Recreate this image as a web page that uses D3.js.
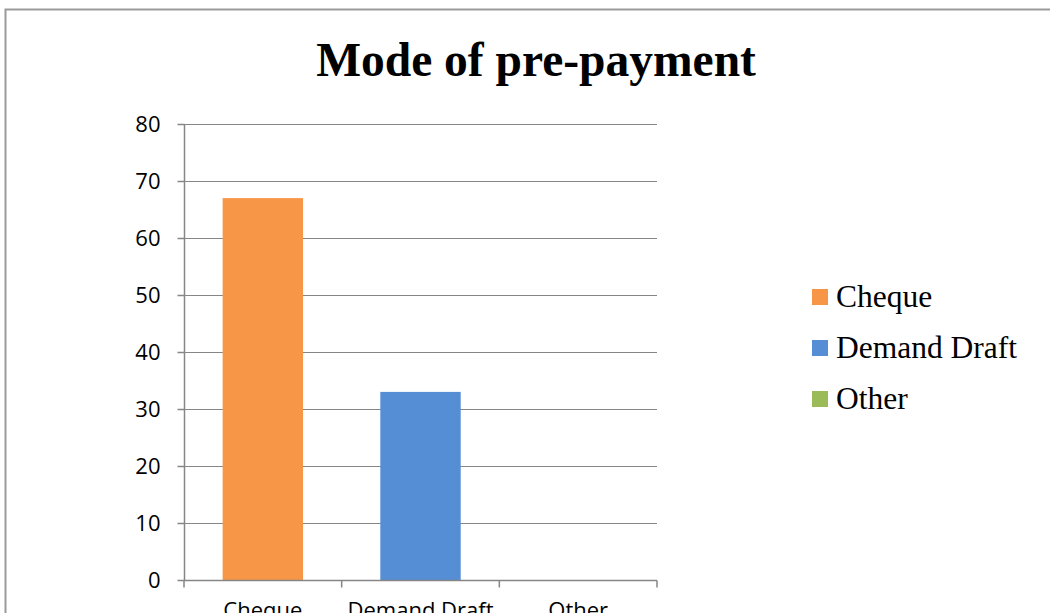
<!DOCTYPE html>
<meta charset="utf-8">
<style>
body { margin: 0; background: #fff; }
svg { display: block; }
.tick text { font-family: "Open Sans", "Liberation Sans", sans-serif; }
</style>
<svg width="1050" height="613" id="svg"></svg>
<script src="https://d3js.org/d3.v7.min.js"></script>
<script>

var categories = ["Cheque", "Demand Draft", "Other"];
var values = [67, 33, 0];
var colors = ["#f79646", "#558ed5", "#9bbb59"];
var yTicks = [0, 10, 20, 30, 40, 50, 60, 70, 80];

var svg = d3.select("svg"),
    width = +svg.attr("width"),
    height = +svg.attr("height");

// outer chart frame
svg.append("path")
    .attr("d", "M5.5," + (height + 5) + "V9.5H" + (width + 5))
    .attr("fill", "none")
    .attr("stroke", "#9a9a9a")
    .attr("stroke-width", 2);

svg.append("text")
    .attr("x", 536)
    .attr("y", 76)
    .attr("text-anchor", "middle")
    .style("font", "bold 47.5px 'Liberation Serif', serif")
    .text("Mode of pre-payment");

var x = d3.scaleBand()
    .domain(categories)
    .range([184, 657])
    .paddingInner(0.49)
    .paddingOuter(0.245);

var y = d3.scaleLinear()
    .domain([0, 80])
    .range([580, 124]);

// gridlines
svg.append("g")
  .selectAll("line")
  .data(yTicks.slice(1))
  .enter().append("line")
    .attr("x1", 184)
    .attr("x2", 657)
    .attr("y1", function(d) { return Math.round(y(d)) + 0.5; })
    .attr("y2", function(d) { return Math.round(y(d)) + 0.5; })
    .attr("stroke", "#868686")
    .attr("stroke-width", 1.2);

svg.append("g")
  .selectAll("rect")
  .data(values)
  .enter().append("rect")
    .attr("x", function(d, i) { return x(categories[i]); })
    .attr("width", x.bandwidth())
    .attr("y", function(d) { return y(d); })
    .attr("height", function(d) { return y(0) - y(d); })
    .attr("fill", function(d, i) { return colors[i]; });

var yAxis = svg.append("g")
    .attr("transform", "translate(184.5,0)")
    .call(d3.axisLeft(y).tickValues(yTicks).tickSize(7).tickPadding(17));
yAxis.selectAll("text").style("font-size", "22px").attr("fill", "#000");
yAxis.selectAll("line, path").attr("stroke", "#868686").attr("stroke-width", 1.5);
yAxis.select(".domain").attr("d", "M0,124V580");

var xAxis = svg.append("g")
    .attr("transform", "translate(0,580.5)")
    .call(d3.axisBottom(x).tickSize(0).tickPadding(22));
xAxis.selectAll("text").style("font-size", "22px").attr("fill", "#000");
xAxis.select(".domain").attr("stroke", "#868686").attr("stroke-width", 1.5)
    .attr("d", "M184,0H657");

// category separator ticks
var sep = [0, 1, 2, 3].map(function(i) { return 184 + i * x.step(); });
xAxis.append("g")
  .selectAll("line")
  .data(sep)
  .enter().append("line")
    .attr("x1", function(d) { return d; })
    .attr("x2", function(d) { return d; })
    .attr("y1", 0)
    .attr("y2", 7)
    .attr("stroke", "#868686")
    .attr("stroke-width", 1.5);

// legend
var legend = svg.append("g")
  .selectAll("g")
  .data(categories)
  .enter().append("g")
    .attr("transform", function(d, i) { return "translate(812," + (297 + i * 51) + ")"; });

legend.append("rect")
    .attr("x", 0)
    .attr("y", -8)
    .attr("width", 16)
    .attr("height", 16)
    .attr("fill", function(d, i) { return colors[i]; });

legend.append("text")
    .attr("x", 24)
    .attr("y", 10)
    .style("font", "31.5px 'Liberation Serif', serif")
    .text(function(d) { return d; });

</script>
